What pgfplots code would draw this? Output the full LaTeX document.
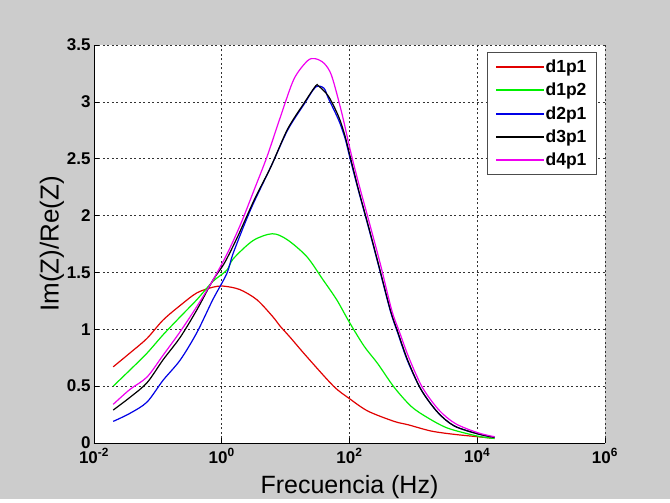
\documentclass[border=0pt]{standalone}
\usepackage{pgfplots}
\pgfplotsset{compat=1.18}
\usepackage{fontspec}
\setmainfont{Liberation Sans}
\definecolor{bggray}{RGB}{204,204,204}
\definecolor{mred}{RGB}{225,0,0}
\definecolor{mgreen}{RGB}{0,240,0}
\definecolor{mblue}{RGB}{0,0,230}
\definecolor{mmag}{RGB}{240,0,240}
\begin{document}
\begin{tikzpicture}[x=1pt,y=1pt]
\fill[bggray] (0,0) rectangle (670,499);
\begin{axis}[
  at={(94pt,56pt)}, anchor=south west,
  scale only axis, width=511pt, height=398pt,
  axis background/.style={fill=white},
  xmode=log, xmin=1e-2, xmax=1e6, ymin=0, ymax=3.5,
  axis x line*=bottom, axis y line*=left,
  axis line style={black, line width=0.8pt, -},
  xtick={1e-2,1,1e2,1e4,1e6},
  xticklabels={10\textsuperscript{-2},10\textsuperscript{0},10\textsuperscript{2},10\textsuperscript{4},10\textsuperscript{6}},
  ytick={0,0.5,1,1.5,2,2.5,3,3.5},
  yticklabels={0,0.5,1,1.5,2,2.5,3,3.5},
  xminorticks=false,
  tick align=inside, major tick length=5pt,
  tick style={black, line width=0.6pt},
  ticklabel style={font=\fontsize{17}{18}\selectfont\bfseries},
  xticklabel style={yshift=-2pt},
  grid=major,
  major grid style={black!80, line width=0.6pt, dash pattern=on 2pt off 2.5pt},
  xlabel={Frecuencia (Hz)}, ylabel={Im(Z)/Re(Z)},
  label style={font=\fontsize{25}{27}\selectfont},
  xlabel style={at={(axis description cs:0.5,0)}, anchor=north, yshift=-29pt},
  ylabel style={yshift=-4pt, font=\fontsize{26}{28}\selectfont},
  legend style={at={(rel axis cs:0.984,0.982)}, anchor=north east,
    draw=black!70, line width=0.8pt, fill=white,
    font=\fontsize{17.5}{19}\selectfont\bfseries, row sep=5pt,
    inner xsep=8pt, inner ysep=5.5pt},
  legend cell align=left,
  legend image code/.code={\fill[#1, draw=none] (0pt,-1pt) rectangle (48pt,1pt);},
  every axis plot/.append style={line width=1.2pt, smooth, tension=0.5},
]
\addplot[mred] coordinates {
(0.02,0.67) (0.0363,0.79) (0.0676,0.92) (0.120,1.08) (0.224,1.21) (0.407,1.32)
(0.724,1.37) (1.047,1.38) (1.905,1.35) (3.548,1.26) (6.31,1.11) (8.13,1.03)
(11.75,0.93) (21.38,0.76) (56.2,0.50) (100,0.39) (195,0.28) (501,0.19)
(832,0.16) (1900,0.105) (4365,0.076) (10230,0.055) (18620,0.04)};
\addlegendentry{d1p1}
\addplot[mgreen] coordinates {
(0.02,0.50) (0.0363,0.64) (0.0676,0.79) (0.120,0.95) (0.224,1.11) (0.407,1.26)
(0.724,1.42) (1.2,1.52) (1.514,1.62) (3.09,1.78) (6.17,1.84) (10.47,1.79)
(21.38,1.64) (38,1.44) (63,1.26) (100,1.06) (170,0.85) (275,0.70) (500,0.49)
(933,0.32) (1700,0.22) (3470,0.13) (10230,0.06) (18620,0.04)};
\addlegendentry{d1p2}
\addplot[mblue] coordinates {
(0.02,0.19) (0.0363,0.26) (0.0676,0.36) (0.120,0.55) (0.224,0.73) (0.407,0.97)
(0.724,1.26) (1.2,1.49) (1.514,1.67) (2.818,2.05) (5.888,2.43) (10.72,2.75)
(19.50,2.98) (29.51,3.13) (39.81,3.12) (46.77,3.03) (67.61,2.84) (85.11,2.68)
(102.3,2.50) (138.0,2.22) (199.5,1.89) (281.8,1.57) (436.5,1.16) (575.4,0.96)
(812.8,0.72) (1318,0.47) (2399,0.27) (4365,0.15) (10230,0.08) (18620,0.05)};
\addlegendentry{d2p1}
\addplot[black] coordinates {
(0.02,0.29) (0.0363,0.40) (0.0676,0.53) (0.120,0.73) (0.224,0.93) (0.407,1.17)
(0.724,1.43) (1.096,1.58) (1.758,1.81) (3.236,2.14) (5.888,2.43) (10.72,2.76)
(19.50,2.99) (29.51,3.14) (32.73,3.14) (46.77,3.05) (67.61,2.87) (85.11,2.70)
(102.3,2.52) (138.0,2.23) (199.5,1.90) (281.8,1.58) (436.5,1.17) (575.4,0.97)
(812.8,0.73) (1318,0.47) (2399,0.27) (4365,0.15) (10230,0.08) (18620,0.05)};
\addlegendentry{d3p1}
\addplot[mmag] coordinates {
(0.02,0.34) (0.0363,0.47) (0.0676,0.58) (0.120,0.77) (0.224,0.98) (0.407,1.20)
(0.724,1.43) (1.230,1.67) (1.995,1.93) (3.236,2.23) (5.129,2.52) (8.318,2.87)
(13.49,3.20) (21.88,3.36) (28.84,3.38) (39.81,3.34) (52.48,3.23) (75.86,2.90)
(102.3,2.58) (138.0,2.29) (199.5,1.96) (302.0,1.58) (457.1,1.17) (602.6,0.98)
(851.1,0.75) (1380,0.49) (2512,0.29) (4571,0.17) (10230,0.09) (18620,0.055)};
\addlegendentry{d4p1}
\end{axis}
\end{tikzpicture}
\end{document}
